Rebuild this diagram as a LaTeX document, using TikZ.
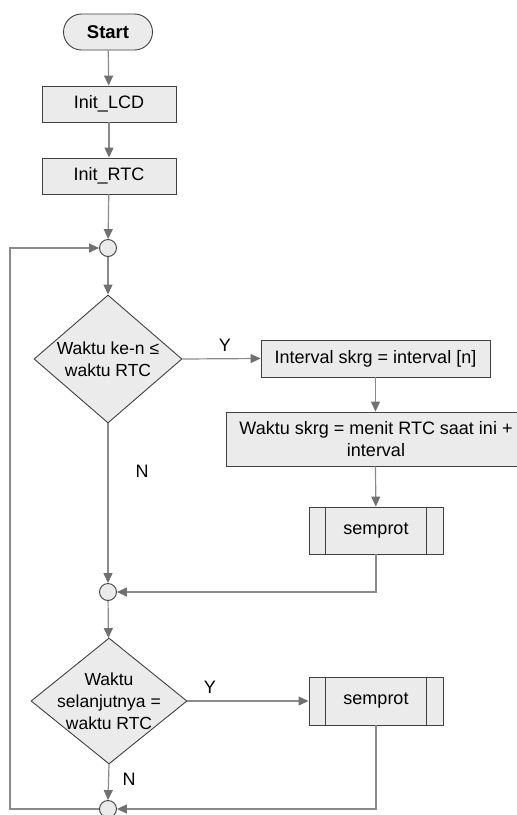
\documentclass[tikz,border=0pt]{standalone}
\usepackage{fontspec}
\setmainfont{Liberation Sans}
\usetikzlibrary{arrows.meta,shapes.geometric}
\definecolor{boxfill}{HTML}{EBEBEB}
\definecolor{boxline}{HTML}{404040}
\definecolor{conn}{HTML}{8A8A8A}
\definecolor{tipc}{HTML}{707070}
\begin{document}
\begin{tikzpicture}[x=1pt,y=-1pt,
  every node/.style={font=\fontsize{18}{22}\selectfont, text=black},
  base/.style={draw=boxline, fill=boxfill, line width=0.9pt, inner sep=0pt},
  termbox/.style={base, rectangle, rounded corners=18pt, minimum width=89pt, minimum height=36pt, font=\fontsize{18.5}{22}\selectfont\bfseries},
  procbox/.style={base, rectangle, align=center},
  subbox/.style={base, rectangle, minimum width=134pt},
  joinpt/.style={base, circle, minimum size=17pt},
  decbox/.style={base, diamond},
  txt/.style={align=center, inner sep=0pt},
  flow/.style={draw=conn, line width=1.2pt, -{Triangle[length=10pt,width=9pt,fill=tipc,color=tipc]}},
  plain/.style={draw=conn, line width=1.2pt}
]
\useasboundingbox (0,0) rectangle (517,815);

\node[termbox] (start) at (108,32) {Start};
\node[procbox, minimum width=134pt, minimum height=36pt] (lcd) at (109,104) {Init\_LCD};
\node[procbox, minimum width=134pt, minimum height=36pt] (rtc) at (109,176) {Init\_RTC};
\node[joinpt] (c1) at (108,248) {};
\node[decbox, minimum width=148pt, minimum height=128pt] (d1) at (108,359) {};
\node[txt, font=\fontsize{17.5}{22}\selectfont] (d1t) at (108,359) {Waktu ke-n ≤\\waktu RTC};
\node[procbox, minimum width=229pt, minimum height=37pt] (iv) at (375.5,358.5) {Interval skrg = interval [n]};
\node[procbox, minimum width=300pt, minimum height=54pt] (ws) at (376,439) {Waktu skrg = menit RTC saat ini +\\interval};
\node[subbox, minimum height=47pt] (s1) at (376,530.5) {semprot};
\node[joinpt] (c2) at (108,592) {};
\node[decbox, minimum width=156pt, minimum height=126pt] (d2) at (109,701) {};
\node[txt, font=\fontsize{17.5}{22}\selectfont] (d2t) at (109,701) {Waktu\\selanjutnya =\\waktu RTC};
\node[subbox, minimum height=48pt] (s2) at (376,701) {semprot};
\node[joinpt] (c3) at (108,809) {};
\coordinate (lb) at (10,809);
\coordinate (lt) at (10,248);

\foreach \s in {s1,s2}{
  \draw[boxline, line width=0.9pt] ([xshift=17pt]\s.north west) -- ([xshift=17pt]\s.south west);
  \draw[boxline, line width=0.9pt] ([xshift=-17pt]\s.north east) -- ([xshift=-17pt]\s.south east);
}

\node[txt] (y1) at (225,345) {Y};
\node[txt] (n1) at (142,471) {N};
\node[txt] (y2) at (210,687) {Y};
\node[txt] (n2) at (129,779) {N};

\draw[flow] (start) -- (lcd);
\draw[flow] (lcd) -- (rtc);
\draw[flow] (rtc) -- (c1);
\draw[flow] (c1) -- (d1);
\draw[flow] (d1.east) -- (iv.west);
\draw[flow] (iv) -- (iv |- ws.north);
\draw[flow] (ws.south -| iv) -- (s1);
\draw[flow] (s1.south) |- (c2.east);
\draw[flow] (d1.south) -- (c2.north);
\draw[flow] (c2) -- (d2);
\draw[flow] (d2.east) -- (s2.west);
\draw[flow] (s2.south) |- (c3.east);
\draw[flow] (d2.south) -- (c3.north);
\draw[flow] (c3.west) -- (lb) -- (lt) -- (c1.west);
\end{tikzpicture}
\end{document}
